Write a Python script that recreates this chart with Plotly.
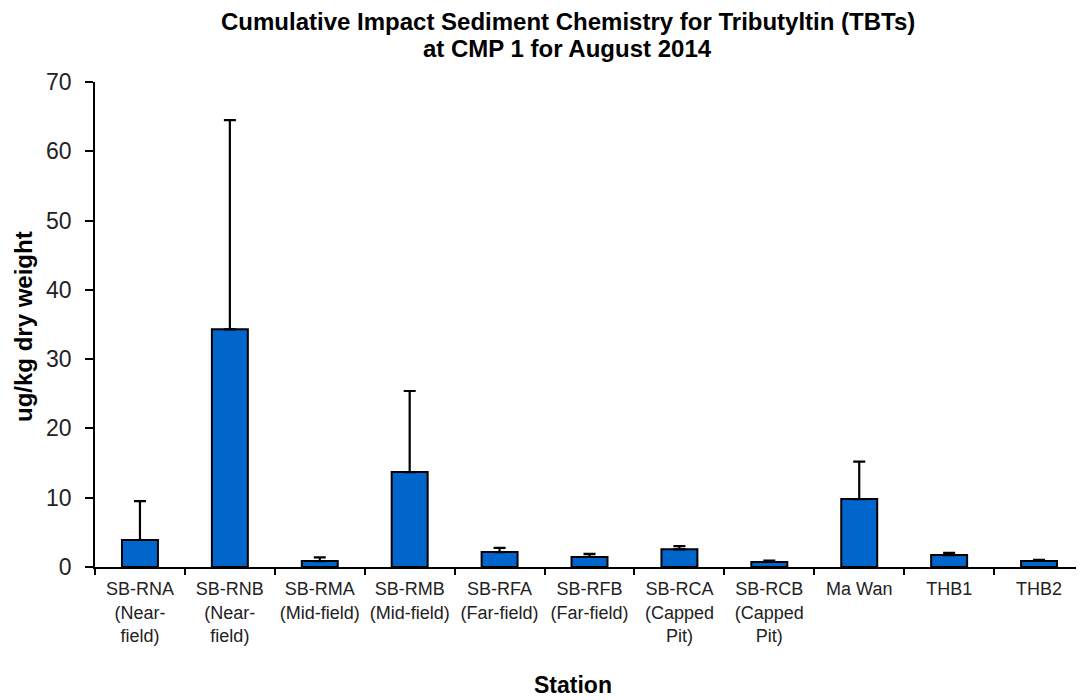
import plotly.graph_objects as go

stations = [
    "SB-RNA<br>(Near-<br>field)",
    "SB-RNB<br>(Near-<br>field)",
    "SB-RMA<br>(Mid-field)",
    "SB-RMB<br>(Mid-field)",
    "SB-RFA<br>(Far-field)",
    "SB-RFB<br>(Far-field)",
    "SB-RCA<br>(Capped<br>Pit)",
    "SB-RCB<br>(Capped<br>Pit)",
    "Ma Wan",
    "THB1",
    "THB2",
]
means = [3.9, 34.3, 0.85, 13.7, 2.15, 1.45, 2.55, 0.72, 9.8, 1.72, 0.87]
errors_plus = [5.6, 30.2, 0.55, 11.7, 0.6, 0.45, 0.45, 0.2, 5.4, 0.33, 0.18]

y_ticks = [0, 10, 20, 30, 40, 50, 60, 70]

title_line1 = "Cumulative Impact Sediment Chemistry for Tributyltin (TBTs)"
title_line2 = "at CMP 1 for August 2014"

fig = go.Figure()
fig.add_trace(go.Bar(
    x=stations,
    y=means,
    marker=dict(color="#0066CC", line=dict(color="#000000", width=2)),
    error_y=dict(type="data", array=errors_plus, symmetric=False,
                 arrayminus=[0] * len(errors_plus),
                 color="#000000", thickness=2.2, width=6),
    width=0.4,
))

FONT = "Liberation Sans, Arial, sans-serif"
PW = 989.0
PH = 485.0


def px(pix):
    return (pix - 95) / PW


def py(pix):
    return (567 - pix) / PH


fig.update_layout(
    width=1076, height=692,
    margin=dict(l=87, r=0, t=74, b=133, autoexpand=False),
    paper_bgcolor="white", plot_bgcolor="white",
    showlegend=False,
    font=dict(family=FONT, color="#000000"),
    xaxis=dict(
        showline=True, linecolor="#000000", linewidth=1.5,
        ticks="outside", tickson="boundaries", ticklen=6, tickcolor="#000000", tickwidth=1.5,
        tickfont=dict(size=18, family=FONT, color="#222222"),
        ticklabelstandoff=5,
        tickangle=0,
        showgrid=False, zeroline=False,
    ),
    yaxis=dict(
        range=[0, 70], tickvals=y_ticks,
        showline=True, linecolor="#000000", linewidth=1.5,
        ticks="outside", ticklen=8, tickcolor="#000000", tickwidth=1.5,
        tickfont=dict(size=23, family=FONT, color="#222222"),
        ticklabelstandoff=9,
        showgrid=False, zeroline=False,
    ),
    annotations=[
        dict(text="<b>" + title_line1 + "</b>",
             xref="paper", yref="paper", x=px(568), y=py(21),
             xanchor="center", yanchor="middle", showarrow=False,
             font=dict(size=24, family=FONT, color="#000000")),
        dict(text="<b>" + title_line2 + "</b>",
             xref="paper", yref="paper", x=px(567), y=py(48),
             xanchor="center", yanchor="middle", showarrow=False,
             font=dict(size=24, family=FONT, color="#000000")),
        dict(text="<b>ug/kg dry weight</b>", textangle=-90,
             xref="paper", yref="paper", x=px(23), y=py(327),
             xanchor="center", yanchor="middle", showarrow=False,
             font=dict(size=24, family=FONT, color="#000000")),
        dict(text="<b>Station</b>",
             xref="paper", yref="paper", x=px(573), y=py(685),
             xanchor="center", yanchor="middle", showarrow=False,
             font=dict(size=23, family=FONT, color="#000000")),
    ],
)

fig.write_html("out.html")
